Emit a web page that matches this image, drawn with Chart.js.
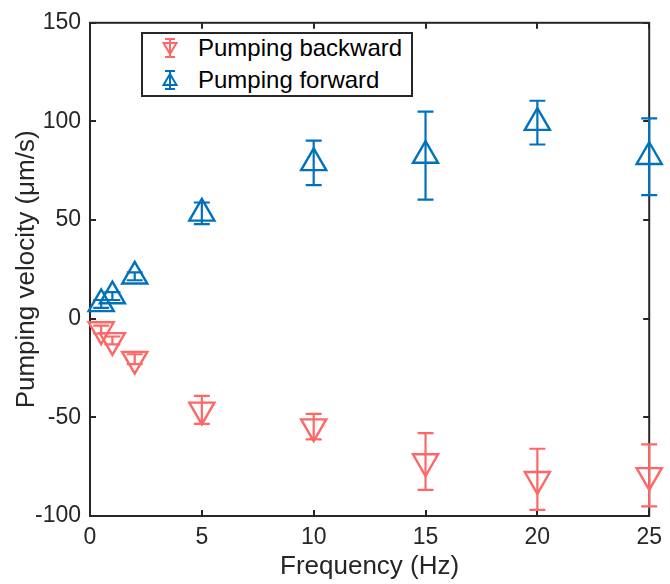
<!DOCTYPE html>
<html>
<head>
<meta charset="utf-8">
<script src="https://cdn.jsdelivr.net/npm/chart.js@4/dist/chart.umd.min.js"></script>
<style>
  html, body { margin: 0; padding: 0; background: #fff; }
  #wrap { position: relative; width: 670px; height: 584px; }
  #legend {
    position: absolute; left: 141px; top: 32px; width: 268px; height: 61px;
    border: 2px solid #262626; background: #fff;
    font-family: "Liberation Sans", Arial, sans-serif; font-size: 24px; color: #000;
  }
  .item { position: absolute; left: 0; height: 30px; width: 268px; }
  .item svg { position: absolute; left: 17px; top: 3px; }
  .item span { position: absolute; left: 55px; top: 1px; line-height: 28px; white-space: nowrap; }
</style>
</head>
<body>
<div id="wrap">
  <canvas id="c" width="670" height="584"></canvas>
  <div id="legend">
    <div class="item" style="top:-1px">
      <svg width="20" height="24" viewBox="0 0 20 24">
        <g fill="none" stroke="#ff6666" stroke-width="2">
          <path d="M10 3 V21 M5 3 H15 M5 21 H15"/>
          <path d="M3.5 7 H16.5 L10 18 Z"/>
        </g>
      </svg>
      <span>Pumping backward</span>
    </div>
    <div class="item" style="top:31px">
      <svg width="20" height="24" viewBox="0 0 20 24">
        <g fill="none" stroke="#0072bd" stroke-width="2">
          <path d="M10 3 V21 M5 3 H15 M5 21 H15"/>
          <path d="M10 6 L16.5 17 H3.5 Z"/>
        </g>
      </svg>
      <span>Pumping forward</span>
    </div>
  </div>
</div>
<script>
// Pumping frequency (Hz)
const freq = [0.5, 1, 2, 5, 10, 15, 20, 25];
// Mean pumping velocity (µm/s) and error half-widths
const backward    = [-5.5, -11, -20.5, -46.2, -54.7, -72.4, -81.4, -79.4];
const backwardErr = [2, 2, 2.5, 7.1, 6.5, 14.4, 15.5, 15.7];
const forward     = [7.5, 11.5, 21.5, 53.4, 79, 82.7, 99.4, 82.1];
const forwardErr  = [2, 2, 2, 5.5, 11.3, 22.3, 11.1, 19.5];
// Axis ticks
const xTicks = [0, 5, 10, 15, 20, 25];
const yTicks = [-100, -50, 0, 50, 100, 150];

const RED = '#ff6666';
const BLUE = '#0072bd';
const INK = '#262626';
const FONT = '"Liberation Sans", Arial, sans-serif';

// Closed axes box with inward tick marks on all four sides
const axesBox = {
  id: 'axesBox',
  beforeDatasetsDraw(chart) {
    const { ctx, chartArea: a, scales: { x, y } } = chart;
    ctx.save();
    ctx.strokeStyle = INK;
    ctx.lineWidth = 2;
    ctx.strokeRect(a.left, a.top, a.right - a.left, a.bottom - a.top);
    const L = 6;
    ctx.beginPath();
    xTicks.forEach(v => {
      const px = Math.round(x.getPixelForValue(v));
      ctx.moveTo(px, a.bottom); ctx.lineTo(px, a.bottom - L);
      ctx.moveTo(px, a.top); ctx.lineTo(px, a.top + L);
    });
    yTicks.forEach(v => {
      const py = Math.round(y.getPixelForValue(v));
      ctx.moveTo(a.left, py); ctx.lineTo(a.left + L, py);
      ctx.moveTo(a.right, py); ctx.lineTo(a.right - L, py);
    });
    ctx.stroke();
    ctx.restore();
  }
};

// Vertical error bars with caps, placed through the chart scales
const errorBars = {
  id: 'errorBars',
  beforeDatasetsDraw(chart) {
    const { ctx, scales: { x, y } } = chart;
    chart.data.datasets.forEach(ds => {
      ctx.save();
      ctx.strokeStyle = ds.borderColor;
      ctx.lineWidth = 2.2;
      ctx.beginPath();
      ds.data.forEach((p, i) => {
        const px = x.getPixelForValue(p.x);
        const top = y.getPixelForValue(p.y + ds.errors[i]);
        const bot = y.getPixelForValue(p.y - ds.errors[i]);
        ctx.moveTo(px, top); ctx.lineTo(px, bot);
        ctx.moveTo(px - 8, top); ctx.lineTo(px + 8, top);
        ctx.moveTo(px - 8, bot); ctx.lineTo(px + 8, bot);
      });
      ctx.stroke();
      ctx.restore();
    });
  }
};

const toPoints = ys => freq.map((f, i) => ({ x: f, y: ys[i] }));

new Chart(document.getElementById('c'), {
  type: 'scatter',
  data: {
    datasets: [
      {
        label: 'Pumping backward',
        data: toPoints(backward),
        errors: backwardErr,
        borderColor: RED,
        backgroundColor: 'rgba(0,0,0,0)',
        pointStyle: 'triangle',
        rotation: 180,
        pointRadius: 14.5,
        pointHoverRadius: 14.5,
        borderWidth: 2.4,
        clip: false
      },
      {
        label: 'Pumping forward',
        data: toPoints(forward),
        errors: forwardErr,
        borderColor: BLUE,
        backgroundColor: 'rgba(0,0,0,0)',
        pointStyle: 'triangle',
        pointRadius: 14.5,
        pointHoverRadius: 14.5,
        borderWidth: 2.4,
        clip: false
      }
    ]
  },
  options: {
    responsive: false,
    animation: false,
    devicePixelRatio: 1,
    layout: { padding: { left: 0, right: 13, top: 20, bottom: 0 } },
    plugins: { legend: { display: false }, tooltip: { enabled: false } },
    scales: {
      x: {
        type: 'linear',
        min: 0, max: 25,
        afterBuildTicks: s => { s.ticks = xTicks.map(v => ({ value: v })); },
        afterFit: s => { s.height = 68; },
        grid: { display: false, drawTicks: false },
        border: { display: false },
        ticks: { color: INK, font: { family: FONT, size: 23 }, padding: 8, maxRotation: 0 },
        title: {
          display: true, text: 'Frequency (Hz)', color: INK,
          font: { family: FONT, size: 26 }, padding: { top: 0, bottom: 2 }
        }
      },
      y: {
        type: 'linear',
        min: -100, max: 150,
        afterBuildTicks: s => { s.ticks = yTicks.map(v => ({ value: v })); },
        afterFit: s => { s.width = 90; },
        grid: { display: false, drawTicks: false },
        border: { display: false },
        ticks: { color: INK, font: { family: FONT, size: 23 }, padding: 9 },
        title: {
          display: true, text: 'Pumping velocity (μm/s)', color: INK,
          font: { family: FONT, size: 26 }, padding: { top: 11, bottom: 0 }
        }
      }
    }
  },
  plugins: [axesBox, errorBars]
});
</script>
</body>
</html>
